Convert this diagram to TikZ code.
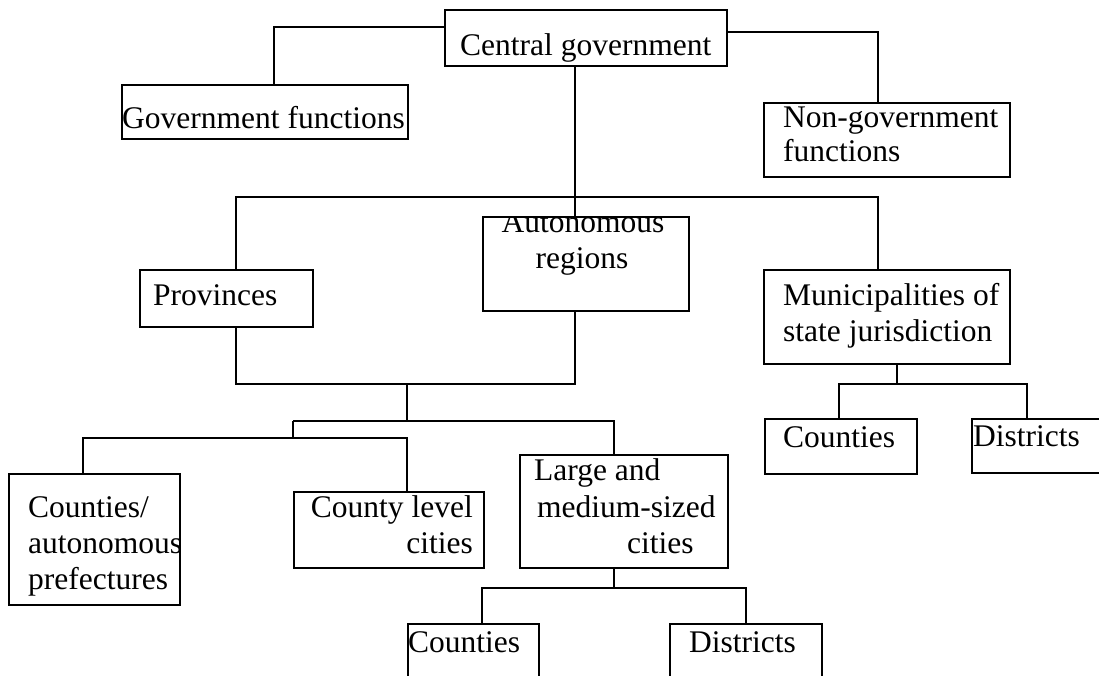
\documentclass[tikz,border=0pt]{standalone}
\usepackage{fontspec}
\setmainfont{Liberation Serif}
\begin{document}
\begin{tikzpicture}[x=1pt,y=-1pt,
  box/.style={draw, line width=1.6pt, inner sep=0pt, anchor=north west},
  lbl/.style={inner sep=0pt, font=\fontsize{31.5}{36}\selectfont},
  wire/.style={line width=1.6pt}]
% page frame (also clips boxes running off the edge)
\clip (0,0) rectangle (1099,675);

% boxes
\node[box, minimum width=282pt, minimum height=56pt]  (cg) at (444,9)   {};
\node[box, minimum width=286pt, minimum height=54pt]  (gf) at (121,84)  {};
\node[box, minimum width=246pt, minimum height=74pt]  (ng) at (763,102) {};
\node[box, minimum width=173pt, minimum height=57pt]  (pr) at (139,269) {};
\node[box, minimum width=206pt, minimum height=94pt]  (ar) at (482,216) {};
\node[box, minimum width=246pt, minimum height=94pt]  (mu) at (763,269) {};
\node[box, minimum width=152pt, minimum height=55pt]  (rc) at (764,418) {};
\node[box, minimum width=200pt, minimum height=54pt]  (rd) at (971,418) {};
\node[box, minimum width=171pt, minimum height=131pt] (ca) at (8,473)   {};
\node[box, minimum width=190pt, minimum height=76pt]  (cl) at (293,491) {};
\node[box, minimum width=208pt, minimum height=113pt] (lm) at (519,454) {};
\node[box, minimum width=131pt, minimum height=100pt] (bc) at (407,623) {};
\node[box, minimum width=152pt, minimum height=100pt] (bd) at (669,623) {};

% labels
\node[lbl, anchor=base west] (cgt)  at (460,55)  {Central government};
\node[lbl, anchor=base west] (gft)  at (122,128) {Government functions};
\node[lbl, anchor=base west] (ngt1) at (783,127) {Non-government};
\node[lbl, anchor=base west] (ngt2) at (783,161) {functions};
\node[lbl, anchor=base west] (prt)  at (153,305) {Provinces};
\begin{scope}
  \clip (ar.north west) rectangle (ar.south east);
  \node[lbl, anchor=base] (art1) at (583,232) {Autonomous};
\end{scope}
\node[lbl, anchor=base] (art2) at (582,268) {regions};
\node[lbl, anchor=base west] (mut1) at (783,305) {Municipalities of};
\node[lbl, anchor=base west] (mut2) at (783,341) {state jurisdiction};
\node[lbl, anchor=base west] (rct)  at (783,447) {Counties};
\node[lbl, anchor=base west] (rdt)  at (973,446) {Districts};
\node[lbl, anchor=base west] (cat1) at (28,517)  {Counties/};
\node[lbl, anchor=base west] (cat2) at (28,553)  {autonomous};
\node[lbl, anchor=base west] (cat3) at (28,589)  {prefectures};
\node[lbl, anchor=base east] (clt1) at (473,517) {County level};
\node[lbl, anchor=base east] (clt2) at (473,553) {cities};
\node[lbl, anchor=base west] (lmt1) at (534,480) {Large and};
\node[lbl, anchor=base west] (lmt2) at (537,517) {medium-sized};
\node[lbl, anchor=base west] (lmt3) at (627,553) {cities};
\node[lbl, anchor=base west] (bct)  at (408,652) {Counties};
\node[lbl, anchor=base west] (bdt)  at (689,652) {Districts};

% elbow points of the connectors
\coordinate (k1)  at (274,27);
\coordinate (k2)  at (878,32);
\coordinate (k3)  at (575,197);
\coordinate (k4)  at (236,197);
\coordinate (k5)  at (878,197);
\coordinate (k6)  at (236,384);
\coordinate (k7)  at (575,384);
\coordinate (k8)  at (407,384);
\coordinate (k9)  at (407,421);
\coordinate (k10) at (293,421);
\coordinate (k11) at (614,421);
\coordinate (k12) at (293,438);
\coordinate (k13) at (83,438);
\coordinate (k14) at (407,438);
\coordinate (k15) at (897,384);
\coordinate (k16) at (839,384);
\coordinate (k17) at (1027,384);
\coordinate (k18) at (614,588);
\coordinate (k19) at (482,588);
\coordinate (k20) at (746,588);

% connectors
\draw[wire] (cg.west |- k1) -- (k1) -- (gf.north -| k1);
\draw[wire] (cg.east |- k2) -- (k2) -- (ng.north -| k2);
\draw[wire] (cg.south -| k3) -- (ar.north -| k3);
\draw[wire] (pr.north -| k4) -- (k4) -- (k5) -- (mu.north -| k5);
\draw[wire] (pr.south -| k6) -- (k6) -- (k7) -- (ar.south -| k7);
\draw[wire] (k8) -- (k9);
\draw[wire] (k10) -- (k11) -- (lm.north -| k11);
\draw[wire] (k10) -- (k12);
\draw[wire] (ca.north -| k13) -- (k13) -- (k14) -- (cl.north -| k14);
\draw[wire] (mu.south -| k15) -- (k15);
\draw[wire] (rc.north -| k16) -- (k16) -- (k17) -- (rd.north -| k17);
\draw[wire] (lm.south -| k18) -- (k18);
\draw[wire] (bc.north -| k19) -- (k19) -- (k20) -- (bd.north -| k20);
\end{tikzpicture}
\end{document}
